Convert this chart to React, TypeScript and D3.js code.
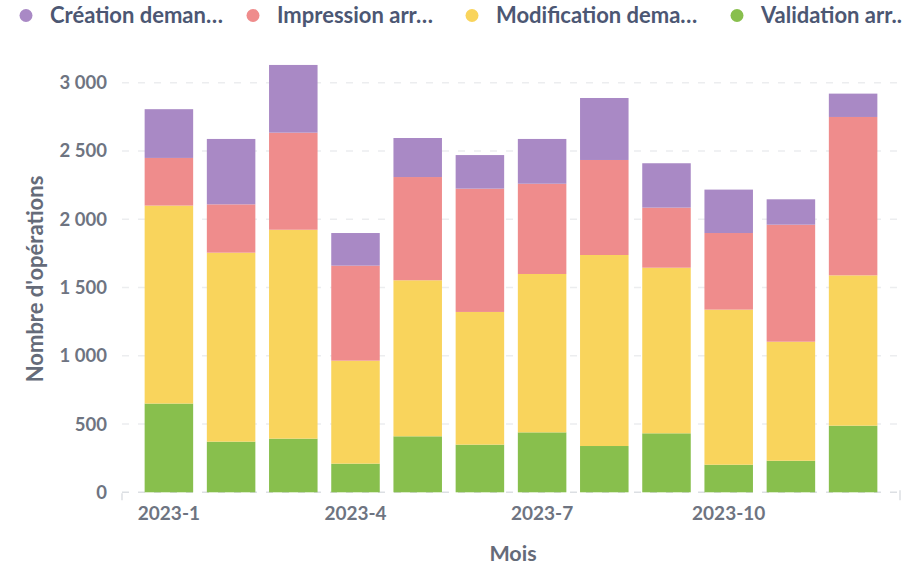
import * as d3 from "d3";

const months = ["2023-1", "2023-2", "2023-3", "2023-4", "2023-5", "2023-6", "2023-7", "2023-8", "2023-9", "2023-10", "2023-11", "2023-12"];
const validation = [650, 371, 393, 210, 410, 349, 439, 339, 432, 202, 231, 488];
const modification = [1450, 1384, 1530, 754, 1143, 972, 1160, 1399, 1213, 1136, 872, 1101];
const impression = [349, 354, 711, 696, 756, 903, 661, 696, 440, 561, 857, 1160];
const creation = [357, 479, 496, 239, 286, 246, 328, 454, 325, 318, 186, 171];
const yTicks = [0, 500, 1000, 1500, 2000, 2500, 3000];
const xTickLabels = ["2023-1", "2023-4", "2023-7", "2023-10"];

// bottom to top
const seriesKeys = ["validation", "modification", "impression", "creation"];
const seriesColors = { validation: "#88BF4D", modification: "#F9D45C", impression: "#EF8C8C", creation: "#A989C5" };
const legendItems = [
  { key: "creation", label: "Création deman…" },
  { key: "impression", label: "Impression arr…" },
  { key: "modification", label: "Modification dema…" },
  { key: "validation", label: "Validation arr.." },
];
const legendX = [26, 253, 472, 737];

const W = 920;
const H = 567;
const plot = { left: 122, right: 900, top: 82.7, bottom: 492.3 };
const font = "Lato, 'Noto Sans', sans-serif";
const tickColor = "#6E7481";
const titleColor = "#656B79";

const fmt = d3.formatLocale({ decimal: ",", thousands: "\u202f", grouping: [3], currency: ["", "€"] }).format(",d");

export default function App() {
  const table = months.map((m, i) => ({
    month: m,
    validation: validation[i],
    modification: modification[i],
    impression: impression[i],
    creation: creation[i],
  }));
  const stacked = d3.stack().keys(seriesKeys)(table as any);

  const x = d3.scaleBand().domain(months).range([plot.left, plot.right]).paddingInner(0.22).paddingOuter(0.364);
  const y = d3.scaleLinear().domain([0, 3000]).range([plot.bottom, plot.top]);

  return (
    <svg width={W} height={H} style={{ position: "absolute", left: 0, top: 0, fontFamily: font }}>
      <rect width={W} height={H} fill="#fff" />
      {/* legend */}
      {legendItems.map((it, i) => (
        <g key={it.key} transform={`translate(${legendX[i]},15.5)`}>
          <circle r={6.5} fill={seriesColors[it.key]} />
          <text x={24} y={7.5} fontSize={22} fontWeight={700} fill="#4C5773">{it.label}</text>
        </g>
      ))}
      {/* grid */}
      {yTicks.map((t) => (
        <g key={t}>
          <line x1={plot.left} x2={plot.right} y1={y(t)} y2={y(t)} stroke={t === 0 ? "#DCDFE3" : "#ECEDEF"} strokeWidth={1.5} strokeDasharray="7,9" />
          <text x={107} y={y(t) + 6.5} textAnchor="end" fontSize={18.5} fontWeight={700} fill={tickColor}>{fmt(t)}</text>
        </g>
      ))}
      <line x1={plot.left} x2={plot.left} y1={plot.bottom + 1} y2={plot.bottom + 8} stroke="#DCDFE3" strokeWidth={1.5} />
      <line x1={plot.right} x2={plot.right} y1={plot.bottom - 2} y2={plot.bottom + 8} stroke="#DCDFE3" strokeWidth={1.5} />
      {/* bars */}
      {stacked.map((s) => (
        <g key={s.key} fill={seriesColors[s.key]}>
          {s.map((d, i) => (
            <rect key={i} x={x(months[i])} width={x.bandwidth()} y={y(d[1])} height={y(d[0]) - y(d[1])} />
          ))}
        </g>
      ))}
      {/* x ticks */}
      {xTickLabels.map((m) => (
        <text key={m} x={(x(m) as number) + x.bandwidth() / 2} y={520} textAnchor="middle" fontSize={19} fontWeight={700} fill={tickColor}>{m}</text>
      ))}
      {/* axis titles */}
      <text x={(plot.left + plot.right) / 2 + 2} y={561} textAnchor="middle" fontSize={21.5} fontWeight={700} fill={titleColor}>Mois</text>
      <text transform={`translate(43,279) rotate(-90)`} textAnchor="middle" fontSize={22} fontWeight={700} fill={titleColor}>Nombre d'opérations</text>
    </svg>
  );
}
